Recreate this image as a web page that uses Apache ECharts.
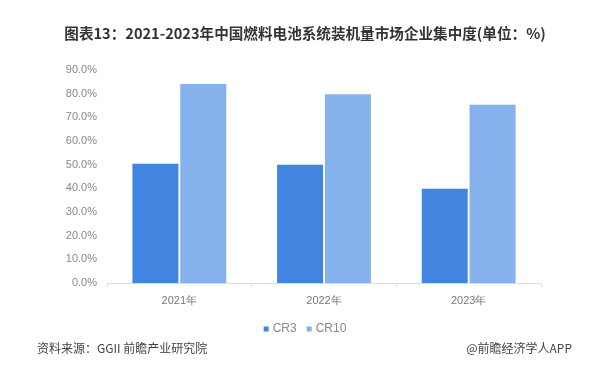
<!DOCTYPE html>
<html><head><meta charset="utf-8">
<script src="https://cdn.jsdelivr.net/npm/echarts@6/dist/echarts.min.js"></script>
<style>html,body{margin:0;padding:0;background:#fff}#c{width:610px;height:386px}</style>
</head><body><div id="c"></div>
<script>
const categories = ['2021年', '2022年', '2023年'];
const cr3 = [50.4, 50.0, 39.8];
const cr10 = [84.1, 79.8, 75.3];
const yTicks = [0, 10, 20, 30, 40, 50, 60, 70, 80, 90];

const chart = echarts.init(document.getElementById('c'));
chart.setOption({
  backgroundColor: '#fff',
  animation: false,
  title: [{
    text: '图表13：2021-2023年中国燃料电池系统装机量市场企业集中度(单位：%)',
    left: 'center', top: 26, padding: 0,
    textStyle: {fontSize: 14.6, fontWeight: 'bold', color: '#333', fontFamily: '"Noto Sans CJK SC", sans-serif'}
  }, {
    text: '资料来源：GGII 前瞻产业研究院',
    left: 37, top: 342, padding: 0,
    textStyle: {fontSize: 12, fontWeight: 'normal', color: '#444', fontFamily: '"Noto Sans CJK SC", sans-serif'}
  }, {
    text: '@前瞻经济学人APP',
    right: 38, top: 342, padding: 0,
    textStyle: {fontSize: 12, fontWeight: 'normal', color: '#444', fontFamily: '"Noto Sans CJK SC", sans-serif'}
  }],
  legend: {
    data: ['CR3', 'CR10'],
    left: 'center', top: 318,
    icon: 'rect', itemWidth: 5, itemHeight: 5, itemGap: 10,
    textStyle: {fontSize: 12, color: '#888', padding: [0, 0, 0, -1]}
  },
  grid: {left: 107, right: 69, top: 70, bottom: 103},
  xAxis: {
    type: 'category', data: categories,
    axisLine: {lineStyle: {color: '#ddd'}},
    axisTick: {show: true, lineStyle: {color: '#ddd'}, length: 4},
    axisLabel: {fontSize: 11, color: '#777', margin: 12}
  },
  yAxis: {
    type: 'value', min: yTicks[0], max: yTicks[yTicks.length - 1], interval: 10,
    axisLine: {show: false}, axisTick: {show: false},
    splitLine: {show: false},
    axisLabel: {fontSize: 11, color: '#888', margin: 10, formatter: v => v.toFixed(1) + '%'}
  },
  series: [{
    name: 'CR3', type: 'bar', data: cr3, barWidth: 46, barGap: '4%',
    itemStyle: {color: '#4285e0'}
  }, {
    name: 'CR10', type: 'bar', data: cr10, barWidth: 46,
    itemStyle: {color: '#85b1ec'}
  }]
});
</script></body></html>
